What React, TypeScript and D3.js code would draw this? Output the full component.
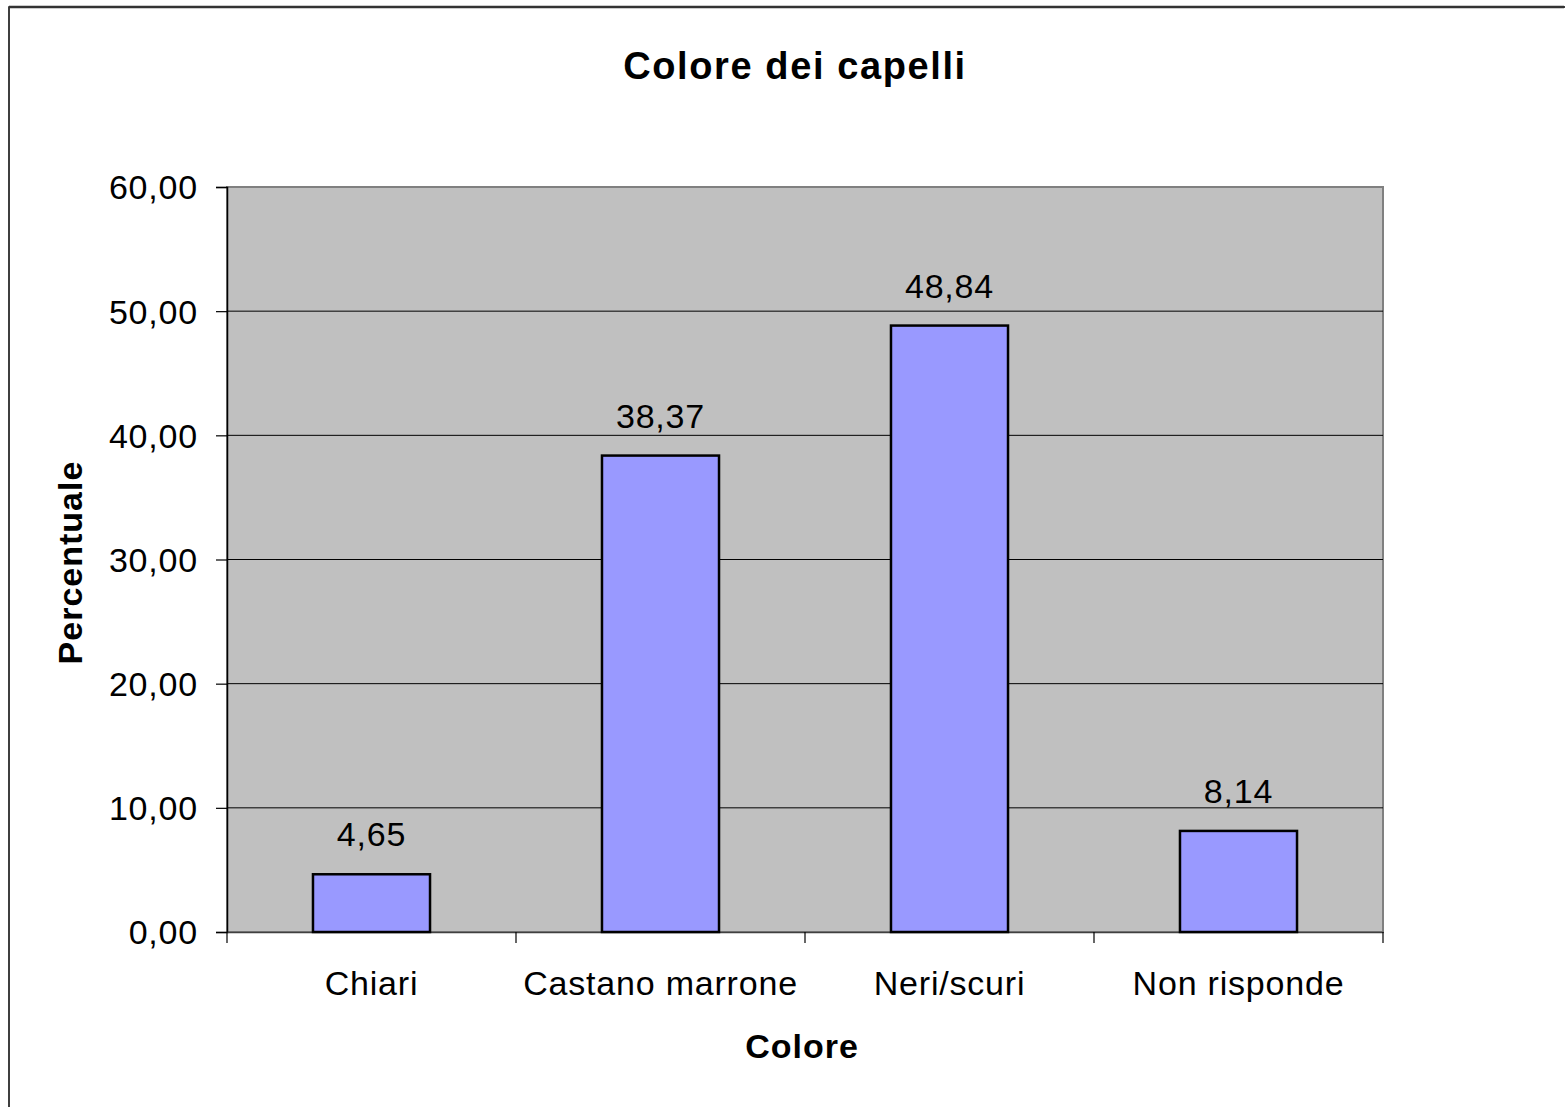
import * as d3 from "d3";
import { useEffect, useRef } from "react";

const categories = ["Chiari", "Castano marrone", "Neri/scuri", "Non risponde"];
const values = [4.65, 38.37, 48.84, 8.14];
const yTicks = [0, 10, 20, 30, 40, 50, 60];

const fmt = (v: number) => v.toFixed(2).replace(".", ",");

export default function App() {
  const svgRef = useRef<SVGSVGElement>(null);

  useEffect(() => {
    if (!svgRef.current) return;
    const svg = d3.select(svgRef.current);
    svg.selectAll("*").remove();

    const W = 1565;
    const H = 1107;
    const plot = { left: 227, right: 1383, top: 187, bottom: 932 };
    const font = "'Liberation Sans', Arial, sans-serif";

    // Outer chart frame (runs off the right/bottom edge like the source)
    svg
      .append("rect")
      .attr("x", 9)
      .attr("y", 7)
      .attr("width", W + 50)
      .attr("height", H + 50)
      .attr("fill", "#fff")
      .attr("stroke", "#000")
      .attr("stroke-width", 1.5);
    svg
      .append("line")
      .attr("x1", 9)
      .attr("x2", 1564)
      .attr("y1", 7)
      .attr("y2", 7)
      .attr("stroke", "#333")
      .attr("stroke-width", 2.5);

    // Scales
    const x = d3
      .scaleBand()
      .domain(categories)
      .range([plot.left, plot.right])
      .padding(0);

    const y = d3
      .scaleLinear()
      .domain([0, 60])
      .range([plot.bottom, plot.top]);

    // Plot area
    svg
      .append("rect")
      .attr("x", plot.left)
      .attr("y", plot.top)
      .attr("width", plot.right - plot.left)
      .attr("height", plot.bottom - plot.top)
      .attr("fill", "#c0c0c0")
      .attr("stroke", "#808080")
      .attr("stroke-width", 2);

    // Gridlines
    svg
      .selectAll(".grid")
      .data(yTicks.filter((t) => t > 0 && t < 60))
      .enter()
      .append("line")
      .attr("x1", plot.left)
      .attr("x2", plot.right)
      .attr("y1", (d) => y(d))
      .attr("y2", (d) => y(d))
      .attr("stroke", "#000")
      .attr("stroke-width", 1);

    // Y axis
    const yAxis = svg
      .append("g")
      .attr("transform", `translate(${plot.left},0)`)
      .call(
        d3
          .axisLeft(y)
          .tickValues(yTicks)
          .tickSize(11)
          .tickPadding(18)
          .tickFormat((d) => fmt(d as number)),
      );
    yAxis.select(".domain").attr("stroke", "#000").attr("stroke-width", 1.5);
    yAxis.selectAll(".tick line").attr("stroke", "#000").attr("stroke-width", 1.2);
    yAxis
      .selectAll(".tick text")
      .attr("font-family", font)
      .attr("font-size", 34)
      .attr("letter-spacing", 0.8)
      .attr("fill", "#000")
      .attr("dy", "0.35em");

    // X axis
    const xAxis = svg
      .append("g")
      .attr("transform", `translate(0,${plot.bottom})`)
      .call(d3.axisBottom(x).tickSize(0).tickPadding(63));
    xAxis.select(".domain").attr("stroke", "#404040").attr("stroke-width", 1.5);
    xAxis
      .selectAll(".tick text")
      .attr("font-family", font)
      .attr("font-size", 34)
      .attr("letter-spacing", 0.8)
      .attr("fill", "#000")
      .attr("dy", "0");

    // Category separator ticks
    const sepX = [...categories.map((c) => x(c) || 0), plot.right];
    svg
      .selectAll(".xsep")
      .data(sepX)
      .enter()
      .append("line")
      .attr("x1", (d) => d)
      .attr("x2", (d) => d)
      .attr("y1", plot.bottom)
      .attr("y2", plot.bottom + 11)
      .attr("stroke", "#000")
      .attr("stroke-width", 1.2);

    // Bars
    const barW = x.bandwidth() * 0.405;
    svg
      .selectAll(".bar")
      .data(values)
      .enter()
      .append("rect")
      .attr("x", (_, i) => (x(categories[i]) || 0) + (x.bandwidth() - barW) / 2)
      .attr("y", (d) => y(d))
      .attr("width", barW)
      .attr("height", (d) => plot.bottom - y(d))
      .attr("fill", "#9999ff")
      .attr("stroke", "#000")
      .attr("stroke-width", 2.5);

    // Value labels
    svg
      .selectAll(".val")
      .data(values)
      .enter()
      .append("text")
      .attr("x", (_, i) => (x(categories[i]) || 0) + x.bandwidth() / 2)
      .attr("y", (d) => y(d) - 28)
      .attr("text-anchor", "middle")
      .attr("font-family", font)
      .attr("font-size", 34)
      .attr("letter-spacing", 0.8)
      .text((d) => fmt(d));

    // Title
    svg
      .append("text")
      .attr("x", 795)
      .attr("y", 79)
      .attr("text-anchor", "middle")
      .attr("font-family", font)
      .attr("font-size", 38)
      .attr("font-weight", "bold")
      .attr("letter-spacing", 1.6)
      .text("Colore dei capelli");

    // X axis title
    svg
      .append("text")
      .attr("x", 802)
      .attr("y", 1058)
      .attr("text-anchor", "middle")
      .attr("font-family", font)
      .attr("font-size", 34)
      .attr("font-weight", "bold")
      .attr("letter-spacing", 1)
      .text("Colore");

    // Y axis title
    svg
      .append("text")
      .attr("transform", `translate(82,${(plot.top + plot.bottom) / 2 + 3}) rotate(-90)`)
      .attr("text-anchor", "middle")
      .attr("font-family", font)
      .attr("font-size", 34)
      .attr("font-weight", "bold")
      .attr("letter-spacing", 1)
      .text("Percentuale");
  }, []);

  return (
    <svg
      ref={svgRef}
      width={1565}
      height={1107}
      style={{ position: "absolute", left: 0, top: 0, background: "#fff" }}
    />
  );
}
